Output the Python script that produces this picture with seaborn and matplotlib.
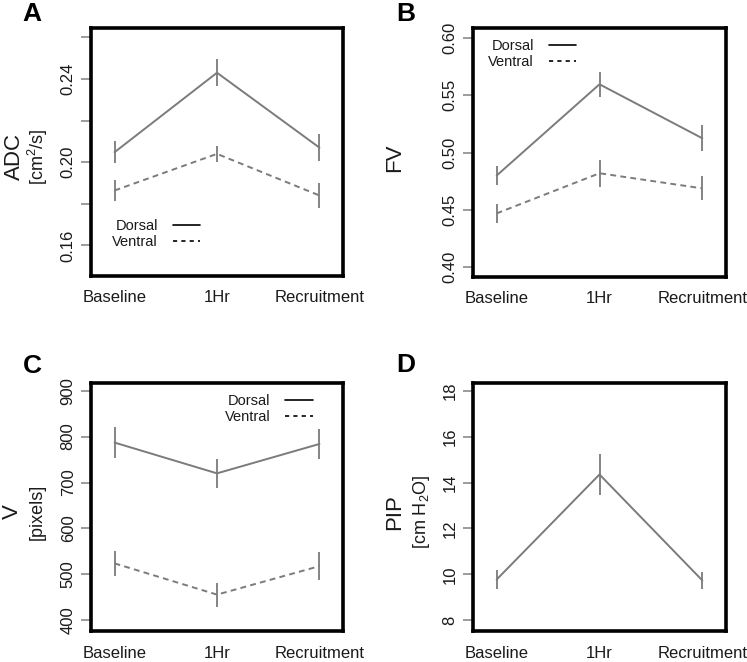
import numpy as np
import pandas as pd
import seaborn as sns
import matplotlib.pyplot as plt
from matplotlib.lines import Line2D

# time points on the x axis
timepoints = ['Baseline', '1Hr', 'Recruitment']

# A: ADC
adc_dorsal = [0.2048, 0.2430, 0.2070]
adc_dorsal_err = [0.0052, 0.0064, 0.0064]
adc_ventral = [0.1864, 0.2040, 0.1840]
adc_ventral_err = [0.0052, 0.0040, 0.0060]

# B: FV
fv_dorsal = [0.4800, 0.5596, 0.5125]
fv_dorsal_err = [0.0080, 0.0110, 0.0115]
fv_ventral = [0.4470, 0.4820, 0.4688]
fv_ventral_err = [0.0083, 0.0117, 0.0105]

# C: V (pixels)
v_dorsal = [787, 720, 784]
v_dorsal_err = [33, 31, 33]
v_ventral = [524, 456, 518]
v_ventral_err = [27, 26, 30]

# D: PIP
pip_values = [9.78, 14.35, 9.74]
pip_err = [0.42, 0.90, 0.36]

LINE = '#7b7b7b'
TEXT = '#1a1a1a'

sns.set_theme(style='white')
plt.rcParams['font.family'] = ['Liberation Sans', 'DejaVu Sans']
plt.rcParams['text.color'] = TEXT


def make_frame(series):
    rows = []
    for name, (vals, errs) in series.items():
        for t, v, e in zip(timepoints, vals, errs):
            rows.append({'time': t, 'group': name, 'value': v, 'err': e})
    return pd.DataFrame(rows)


def draw_panel(ax, series, ylim, yticks, ylabels, xpad, legend_at=None):
    df = make_frame(series)
    if len(series) > 1:
        sns.lineplot(data=df, x='time', y='value', style='group',
                     dashes={'Dorsal': '', 'Ventral': (3, 2.2)},
                     color=LINE, lw=1.4, sort=False, legend=False, ax=ax)
    else:
        sns.lineplot(data=df, x='time', y='value', color=LINE, lw=1.4,
                     sort=False, legend=False, ax=ax)
    # error bars (no caps)
    ax.vlines(df['time'], df['value'] - df['err'], df['value'] + df['err'],
              color=LINE, lw=1.3)

    ax.set_xlim(-0.23, 2.23)
    ax.set_ylim(*ylim)
    ax.set_yticks(yticks)
    ax.set_yticklabels(ylabels)
    for lab in ax.get_yticklabels():
        lab.set_rotation(90)
        lab.set_va('center')
    ax.set_xlabel('')
    ax.set_ylabel('')
    ax.tick_params(axis='y', direction='out', length=7, width=1.2,
                   color='#8a8a8a', pad=4, labelsize=12, labelcolor=TEXT, left=True)
    ax.tick_params(axis='x', length=0, pad=xpad, labelsize=12, labelcolor=TEXT)
    for sp in ax.spines.values():
        sp.set_color('black')
        sp.set_linewidth(2.6)
        sp.set_visible(True)

    if legend_at is not None:
        handles = [Line2D([], [], color='black', lw=1.2),
                   Line2D([], [], color='black', lw=1.2, ls=(0, (2.5, 2.5)))]
        ax.legend(handles, ['Dorsal', 'Ventral'], loc='upper left',
                  bbox_to_anchor=legend_at, frameon=False, markerfirst=False,
                  fontsize=10.5, handlelength=1.9, handletextpad=1.0,
                  labelspacing=0.15, borderpad=0, borderaxespad=0)


W, H = 747, 662
fig = plt.figure(figsize=(W / 100, H / 100), dpi=100)


def px_axes(x0, y0, x1, y1):
    return fig.add_axes([x0 / W, 1 - y1 / H, (x1 - x0) / W, (y1 - y0) / H])


axA = px_axes(91, 28, 343, 276)
axB = px_axes(473, 28, 726, 277)
axC = px_axes(91, 383, 343, 631)
axD = px_axes(473, 383, 726, 631)

draw_panel(axA, {'Dorsal': (adc_dorsal, adc_dorsal_err),
                 'Ventral': (adc_ventral, adc_ventral_err)},
           (0.1453, 0.2645), [0.16, 0.18, 0.20, 0.22, 0.24, 0.26],
           ['0.16', '', '0.20', '', '0.24', ''], xpad=10, legend_at=(0.085, 0.23))
draw_panel(axB, {'Dorsal': (fv_dorsal, fv_dorsal_err),
                 'Ventral': (fv_ventral, fv_ventral_err)},
           (0.3915, 0.6087), [0.40, 0.45, 0.50, 0.55, 0.60],
           ['0.40', '0.45', '0.50', '0.55', '0.60'], xpad=10, legend_at=(0.06, 0.955))
draw_panel(axC, {'Dorsal': (v_dorsal, v_dorsal_err),
                 'Ventral': (v_ventral, v_ventral_err)},
           (376.8, 916.7), [400, 500, 600, 700, 800, 900],
           ['400', '500', '600', '700', '800', '900'], xpad=11, legend_at=(0.53, 0.955))
draw_panel(axD, {'PIP': (pip_values, pip_err)},
           (7.54, 18.33), [8, 10, 12, 14, 16, 18],
           ['8', '10', '12', '14', '16', '18'], xpad=11)

# y axis titles (two lines, different sizes)
axA.text(-0.305, 0.48, 'ADC', transform=axA.transAxes, rotation=90,
         ha='center', va='center', fontsize=16)
axA.text(-0.212, 0.48, r'[cm$^\mathregular{2}$/s]', transform=axA.transAxes,
         rotation=90, ha='center', va='center', fontsize=13)
axB.text(-0.31, 0.48, 'FV', transform=axB.transAxes, rotation=90,
         ha='center', va='center', fontsize=16)
axC.text(-0.312, 0.48, 'V', transform=axC.transAxes, rotation=90,
         ha='center', va='center', fontsize=16)
axC.text(-0.212, 0.48, '[pixels]', transform=axC.transAxes, rotation=90,
         ha='center', va='center', fontsize=13)
axD.text(-0.31, 0.48, 'PIP', transform=axD.transAxes, rotation=90,
         ha='center', va='center', fontsize=16)
axD.text(-0.205, 0.48, r'[cm H$_\mathregular{2}$O]', transform=axD.transAxes,
         rotation=90, ha='center', va='center', fontsize=13)

# panel letters
for letter, (x, y) in {'A': (32, 14), 'B': (406, 14),
                       'C': (32, 366), 'D': (406, 365)}.items():
    fig.text(x / W, 1 - y / H, letter, ha='center', va='center',
             fontsize=19, fontweight='bold', color='black')

fig.savefig('out.png', dpi=100)
